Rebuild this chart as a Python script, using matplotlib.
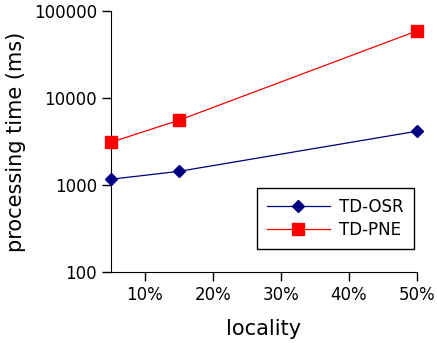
import numpy as np
import matplotlib.pyplot as plt

locality = [5, 15, 50]
td_osr = [1165, 1435, 4150]
td_pne = [3100, 5550, 59000]
xticks = [10, 20, 30, 40, 50]
xtick_labels = ['10%', '20%', '30%', '40%', '50%']
yticks = [100, 1000, 10000, 100000]

fig = plt.figure(figsize=(4.37, 3.43), dpi=100)
ax = fig.add_axes([0.254, 0.207, 0.700, 0.761])

ax.plot(locality, td_osr, color='navy', lw=0.9, marker='D', markersize=6.5,
        label='TD-OSR', clip_on=False, zorder=3)
ax.plot(locality, td_pne, color='red', lw=0.9, marker='s', markersize=8,
        label='TD-PNE', clip_on=False, zorder=3)

ax.set_yscale('log')
ax.set_xlim(5, 50)
ax.set_ylim(100, 100000)
ax.set_xticks(xticks)
ax.set_xticklabels(xtick_labels)
ax.set_yticks(yticks)
ax.set_yticklabels([str(v) for v in yticks])
ax.yaxis.set_minor_locator(plt.NullLocator())
ax.tick_params(labelsize=12, length=6.5, width=1)

for side in ['top', 'right']:
    ax.spines[side].set_visible(False)

ax.set_xlabel('locality', fontsize=15, labelpad=11)
ax.set_ylabel('processing time (ms)', fontsize=15, labelpad=5.5)

leg = ax.legend(loc='lower right', bbox_to_anchor=(0.990, 0.088), fontsize=12,
                fancybox=False, edgecolor='black', framealpha=1,
                borderaxespad=0, handlelength=3.8, borderpad=0.6,
                handletextpad=0.55, labelspacing=0.3)
leg.get_frame().set_linewidth(1)

fig.savefig('out.png', dpi=100)
